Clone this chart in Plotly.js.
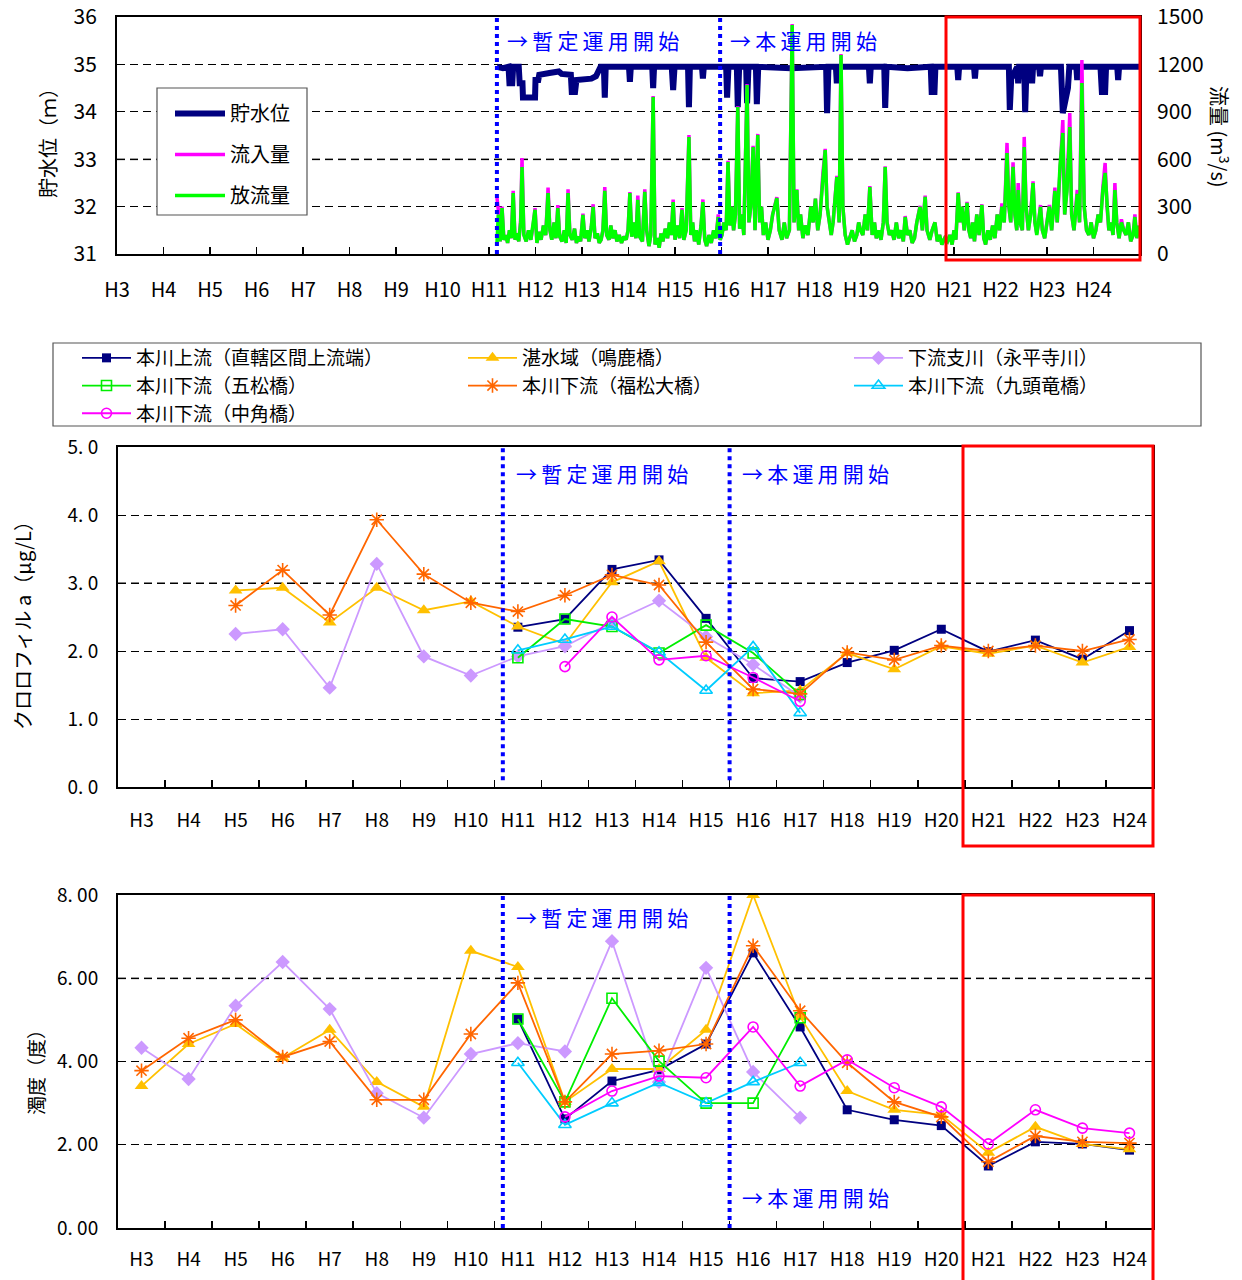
<!DOCTYPE html>
<html>
<head>
<meta charset="utf-8">
<script src="https://cdn.plot.ly/plotly-3.0.1.min.js"></script>
<style>html,body{margin:0;padding:0;background:#fff;}#chart{width:1242px;height:1280px;}</style>
</head>
<body>
<div id="chart"></div>
<script>
// ---------- data ----------
const yearLabels = ['H3','H4','H5','H6','H7','H8','H9','H10','H11','H12','H13','H14','H15','H16','H17','H18','H19','H20','H21','H22','H23','H24'];
const yearNums = [3,4,5,6,7,8,9,10,11,12,13,14,15,16,17,18,19,20,21,22,23,24];

const waterYear = [11.17,11.30,11.42,11.44,11.50,11.52,11.64,11.66,11.72,11.73,11.99,12.00,12.06,12.08,12.30,12.50,12.56,12.76,12.78,12.85,12.88,13.20,13.30,13.40,13.47,13.49,13.51,14.01,14.03,14.05,14.51,14.53,14.55,14.93,14.96,14.99,15.28,15.30,15.32,15.58,15.60,15.62,16.10,16.12,16.15,16.33,16.35,16.38,16.53,16.55,16.58,16.74,16.76,16.79,17.50,18.25,18.27,18.30,18.46,18.48,18.50,19.17,19.19,19.21,19.50,19.52,19.55,20.00,20.50,20.52,20.58,20.60,21.07,21.09,21.11,21.43,21.45,21.47,22.18,22.20,22.23,22.36,22.38,22.40,22.51,22.53,22.56,22.66,22.68,22.70,22.83,22.85,22.87,23.30,23.34,23.40,23.45,23.48,23.63,23.65,23.67,24.15,24.18,24.25,24.27,24.51,24.53,24.55,25.00];
const waterLevel = [34.95,34.92,34.95,34.60,34.60,34.95,34.95,34.60,34.60,34.30,34.30,34.67,34.67,34.78,34.82,34.85,34.80,34.78,34.42,34.42,34.67,34.70,34.75,34.95,34.95,34.30,34.95,34.95,34.63,34.95,34.95,34.50,34.95,34.95,34.46,34.95,34.95,34.10,34.95,34.95,34.70,34.95,34.95,34.30,34.95,34.95,34.10,34.95,34.95,34.18,34.95,34.95,34.16,34.95,34.92,34.95,33.97,34.95,34.95,34.60,34.95,34.95,34.60,34.95,34.95,34.08,34.95,34.92,34.95,34.42,34.42,34.95,34.95,34.67,34.95,34.95,34.70,34.95,34.95,34.04,34.70,34.95,34.60,34.95,34.95,33.99,34.95,34.95,34.60,34.95,34.95,34.75,34.95,34.95,33.97,34.20,34.50,34.95,34.95,34.67,34.95,34.95,34.42,34.42,34.95,34.95,34.67,34.95,34.95];

const flowYear = [
11.17,11.20,11.24,11.28,11.32,11.36,11.40,11.44,11.48,11.52,
11.56,11.60,11.64,11.68,11.71,11.75,11.80,11.85,11.90,11.95,
11.99,12.03,12.07,12.12,12.17,12.22,12.27,12.31,12.35,12.40,
12.44,12.48,12.52,12.57,12.62,12.66,12.70,12.74,12.79,12.84,
12.88,12.93,12.97,13.02,13.06,13.11,13.15,13.20,13.24,13.28,
13.33,13.37,13.41,13.45,13.49,13.53,13.58,13.62,13.66,13.71,
13.75,13.80,13.85,13.90,13.95,13.99,14.03,14.07,14.12,14.16,
14.20,14.24,14.30,14.35,14.39,14.44,14.48,14.53,14.57,14.62,
14.66,14.70,14.74,14.79,14.84,14.88,14.92,14.96,15.00,15.05,
15.10,15.15,15.19,15.24,15.30,15.34,15.38,15.42,15.46,15.51,
15.56,15.60,15.64,15.68,15.73,15.78,15.83,15.88,15.93,15.97,
16.01,16.05,16.10,16.14,16.18,16.22,16.26,16.30,16.35,16.39,
16.44,16.48,16.55,16.59,16.63,16.68,16.72,16.78,16.82,16.86,
16.90,16.95,17.00,17.05,17.10,17.19,17.24,17.30,17.35,17.40,
17.46,17.52,17.56,17.62,17.66,17.70,17.75,17.80,17.86,17.92,
17.97,18.02,18.07,18.12,18.18,18.23,18.27,18.31,18.36,18.40,
18.45,18.48,18.53,18.57,18.61,18.66,18.71,18.76,18.81,18.86,
18.91,18.95,18.99,19.04,19.09,19.14,19.19,19.24,19.29,19.33,
19.38,19.43,19.48,19.52,19.56,19.61,19.66,19.71,19.76,19.81,
19.86,19.91,19.95,20.00,20.05,20.10,20.15,20.20,20.27,20.32,
20.38,20.42,20.48,20.53,20.59,20.64,20.69,20.74,20.80,20.86,
20.91,20.96,21.00,21.04,21.09,21.13,21.17,21.22,21.28,21.32,
21.36,21.40,21.44,21.49,21.54,21.60,21.64,21.68,21.73,21.78,
21.83,21.88,21.93,21.98,22.03,22.08,22.14,22.18,22.22,22.27,
22.31,22.35,22.38,22.42,22.47,22.51,22.55,22.60,22.65,22.70,
22.74,22.78,22.82,22.86,22.90,22.95,23.00,23.05,23.10,23.17,
23.22,23.28,23.34,23.38,23.43,23.49,23.53,23.58,23.65,23.70,
23.75,23.80,23.85,23.90,23.95,24.00,24.05,24.10,24.15,24.20,
24.25,24.29,24.33,24.38,24.42,24.46,24.50,24.55,24.60,24.65,
24.70,24.75,24.80,24.85,24.89,24.93,24.98];
const outflow = [
60,250,80,290,90,120,70,150,100,386,
90,130,80,200,550,120,80,150,90,180,
280,70,140,90,180,120,386,150,90,200,
100,290,110,80,150,70,386,120,90,160,
70,110,80,247,100,150,80,170,298,100,
130,70,90,150,400,120,90,180,100,150,
80,120,70,110,90,150,386,110,200,100,
342,110,80,393,150,50,120,994,60,100,
40,130,80,160,100,200,120,329,90,180,
100,280,90,150,740,120,200,80,150,60,
180,329,90,50,120,70,150,100,234,90,
120,200,150,582,180,300,150,250,930,160,
250,120,1070,200,300,677,150,753,200,300,
120,200,90,150,250,354,150,90,200,100,
150,1450,200,405,150,250,100,180,120,300,
200,350,150,250,500,658,300,200,120,200,
350,487,200,1260,300,120,60,100,150,80,
120,200,150,120,250,150,424,120,200,100,
150,90,200,551,200,120,150,90,200,100,
150,80,234,120,150,70,100,200,298,150,
361,150,90,150,200,80,120,60,100,80,
120,60,150,90,386,200,300,150,323,150,
100,200,80,250,120,310,100,60,150,90,
180,100,250,150,300,200,639,300,200,551,
250,150,405,200,150,677,300,150,250,449,
200,120,200,298,150,100,200,300,150,400,
200,560,766,250,400,804,250,150,380,200,
1082,300,150,120,200,100,150,250,200,400,
513,300,150,200,120,405,200,100,200,150,
120,200,80,120,234,100,180];
const inflow = [
360,280,80,300,90,120,70,150,100,400,
90,130,80,210,608,120,80,150,90,180,
290,70,140,90,180,120,420,150,90,200,
100,310,110,80,150,70,410,120,90,160,
70,110,80,255,100,150,80,170,315,100,
130,70,90,150,424,120,90,180,100,150,
80,120,70,110,90,150,392,110,200,100,
370,110,80,410,150,50,120,1000,60,100,
40,130,80,160,100,200,120,345,90,180,
100,290,90,150,753,120,200,80,150,60,
180,345,90,50,120,70,150,100,250,90,
120,200,150,590,180,300,150,250,935,160,
250,120,1075,200,300,685,150,760,200,300,
120,200,90,150,250,360,150,90,200,100,
150,1455,200,410,150,250,100,180,120,300,
200,350,150,250,510,665,300,200,120,200,
350,495,200,1265,300,120,60,100,150,80,
120,200,150,120,250,150,430,120,200,100,
150,90,200,555,200,120,150,90,200,100,
150,80,240,120,150,70,100,200,305,150,
370,150,90,150,200,80,120,60,100,80,
120,60,150,90,390,200,300,150,330,150,
100,200,80,250,120,315,100,60,150,90,
180,100,250,150,320,200,703,300,200,580,
250,150,449,200,150,741,300,150,260,460,
200,130,200,310,150,100,200,310,150,420,
200,576,848,250,420,892,250,150,405,200,
1228,300,150,120,200,100,150,250,200,420,
576,300,150,200,120,449,200,100,220,150,
120,200,80,120,250,100,180];

const N = null;
// chlorophyll a (μg/L)
const chlA_upstream   = [N,N,N,N,N,N,N,N,2.35,2.47,3.20,3.34,2.48,1.60,1.55,1.83,2.01,2.32,1.99,2.16,1.88,2.30];
const chlA_reservoir  = [N,N,2.89,2.93,2.42,2.93,2.60,2.73,2.36,2.10,3.01,3.32,1.90,1.38,1.42,1.97,1.73,2.07,1.96,2.08,1.83,2.06];
const chlA_tributary  = [N,N,2.25,2.32,1.46,3.28,1.92,1.64,1.92,2.07,2.42,2.74,2.21,1.80,1.33,N,N,N,N,N,N,N];
const chlA_gomatsu    = [N,N,N,N,N,N,N,N,1.90,2.47,2.36,1.97,2.38,1.97,1.36,N,N,N,N,N,N,N];
const chlA_fukumatsu  = [N,N,2.67,3.19,2.53,3.93,3.13,2.71,2.58,2.82,3.12,2.97,2.13,1.44,1.37,1.98,1.87,2.08,2.00,2.08,2.00,2.17];
const chlA_kuzuryu    = [N,N,N,N,N,N,N,N,2.01,2.17,2.36,1.98,1.42,2.06,1.09,N,N,N,N,N,N,N];
const chlA_nakazuno   = [N,N,N,N,N,N,N,N,N,1.77,2.50,1.87,1.93,1.61,1.26,N,N,N,N,N,N,N];
// turbidity (度)
const turb_upstream   = [N,N,N,N,N,N,N,N,5.02,2.62,3.53,3.80,4.42,6.61,4.83,2.84,2.60,2.46,1.49,2.07,2.02,1.87];
const turb_reservoir  = [3.41,4.42,4.90,4.09,4.76,3.51,2.91,6.66,6.27,3.03,3.82,3.82,4.76,8.00,5.07,3.29,2.84,2.72,1.81,2.43,2.02,1.89];
const turb_tributary  = [4.33,3.58,5.34,6.39,5.26,3.24,2.65,4.18,4.44,4.24,6.89,3.51,6.25,3.75,2.65,N,N,N,N,N,N,N];
const turb_gomatsu    = [N,N,N,N,N,N,N,N,5.02,3.03,5.52,4.01,3.00,3.00,5.05,N,N,N,N,N,N,N];
const turb_fukumatsu  = [3.78,4.56,5.00,4.11,4.48,3.08,3.08,4.66,5.89,3.03,4.18,4.26,4.42,6.78,5.22,3.97,3.03,2.67,1.59,2.21,2.07,2.04];
const turb_kuzuryu    = [N,N,N,N,N,N,N,N,3.97,2.48,3.00,3.49,3.00,3.51,3.97,N,N,N,N,N,N,N];
const turb_nakazuno   = [N,N,N,N,N,N,N,N,N,2.67,3.29,3.65,3.61,4.83,3.41,4.04,3.37,2.91,2.02,2.84,2.40,2.28];

const seriesNames = ['本川上流（直轄区間上流端）','湛水域（鳴鹿橋）','下流支川（永平寺川）','本川下流（五松橋）','本川下流（福松大橋）','本川下流（九頭竜橋）','本川下流（中角橋）'];
const topNames = ['貯水位','流入量','放流量'];
const chlTicks = [0,1,2,3,4,5];
const chlTickText = ['0. 0','1. 0','2. 0','3. 0','4. 0','5. 0'];
const turbTicks = [0,2,4,6,8];
const turbTickText = ['0. 00','2. 00','4. 00','6. 00','8. 00'];
const levelTicks = [31,32,33,34,35,36];
const flowTicks = [0,300,600,900,1200,1500];

// ---------- layout helpers ----------
const W = 1242, H = 1280;
const fx = p => p / W;
const fy = p => 1 - p / H;
const FONT = '"Noto Sans CJK JP", "Noto Sans", sans-serif';
const BLUE = '#0000FF';
const thin = s => s.split('').join('\u2009');

const styles = [
  {color:'#000080', symbol:'square', size:9, fill:true},
  {color:'#FFC000', symbol:'triangle-up', size:12, fill:true},
  {color:'#CC99FF', symbol:'diamond', size:11, fill:true},
  {color:'#00EE00', symbol:'square-open', size:10},
  {color:'#FF6600', symbol:'asterisk-open', size:12},
  {color:'#00CCFF', symbol:'triangle-up-open', size:11},
  {color:'#FF00FF', symbol:'circle-open', size:10}
];
const chlData = [chlA_upstream, chlA_reservoir, chlA_tributary, chlA_gomatsu, chlA_fukumatsu, chlA_kuzuryu, chlA_nakazuno];
const turbData = [turb_upstream, turb_reservoir, turb_tributary, turb_gomatsu, turb_fukumatsu, turb_kuzuryu, turb_nakazuno];

const traces = [];
traces.push({x: waterYear, y: waterLevel, name: topNames[0], type:'scatter', mode:'lines',
  line:{color:'#000080', width:6}, xaxis:'x', yaxis:'y', legend:'legend', legendgroup:'a'});
traces.push({x: flowYear, y: inflow, name: topNames[1], type:'scatter', mode:'lines',
  line:{color:'#FF00FF', width:3.5}, xaxis:'x', yaxis:'y4', legend:'legend', legendgroup:'b'});
traces.push({x: flowYear, y: outflow, name: topNames[2], type:'scatter', mode:'lines',
  line:{color:'#00FF00', width:3.5}, xaxis:'x', yaxis:'y4', legend:'legend', legendgroup:'c'});

function mk(i, data, xa, ya, show) {
  const s = styles[i];
  return {x: yearLabels, y: data, name: seriesNames[i], type:'scatter', mode:'lines+markers',
    xaxis: xa, yaxis: ya, showlegend: show, legend:'legend2',
    line:{color:s.color, width:1.8},
    marker:{symbol:s.symbol, size:s.size, color:s.color, line:{color:s.color, width: s.fill ? 0 : 1.6}}};
}
for (let i = 0; i < 7; i++) traces.push(mk(i, chlData[i], 'x2', 'y2', true));
for (let i = 0; i < 7; i++) traces.push(mk(i, turbData[i], 'x3', 'y3', false));

const axLine = {showline:true, linecolor:'#000', linewidth:2, mirror:true, zeroline:false};
const tf = (sz) => ({family: FONT, size: sz, color:'#000'});

const catX = (dom, anchor, standoff) => Object.assign({}, axLine, {
  domain: dom, anchor: anchor, type:'category', categoryarray: yearLabels, range:[-0.5, 21.5],
  tickson:'boundaries', ticks:'inside', ticklen:7, tickcolor:'#000', tickwidth:1.5,
  showgrid:false, tickfont: tf(19), ticklabelstandoff: standoff
});

const grayGrid = (xref, yref, yv) => ({type:'line', xref: xref + ' domain', yref: yref, x0:0, x1:1, y0:yv, y1:yv,
  layer:'below', line:{color:'#808080', width:2, dash:'8px,5px'}});

const layout = {
  width: W, height: H, margin:{l:0, r:0, t:0, b:0}, paper_bgcolor:'#fff', plot_bgcolor:'#fff',
  font:{family: FONT, color:'#000'},
  xaxis: Object.assign({}, axLine, {domain:[fx(117), fx(1140)], anchor:'y', range:[3,25],
    tickvals: yearNums, ticktext: yearLabels, ticks:'inside', ticklen:7, tickcolor:'#000', tickwidth:1.5,
    showgrid:false, tickfont: tf(20), ticklabelstandoff: 17}),
  yaxis: Object.assign({}, axLine, {domain:[fy(254), fy(17)], anchor:'x', range:[31,36],
    tickvals: levelTicks, ticks:'', showgrid:true, gridcolor:'#000', griddash:'8px,5px', gridwidth:1,
    tickfont: tf(21), ticklabelstandoff: 14}),
  yaxis4: {overlaying:'y', side:'right', anchor:'x', range:[0,1500], tickvals: flowTicks, showgrid:false,
    zeroline:false, showline:false, ticks:'', tickfont: tf(21), ticklabelstandoff: 16},
  xaxis2: catX([fx(118), fx(1153)], 'y2', 15),
  yaxis2: Object.assign({}, axLine, {domain:[fy(787), fy(447)], anchor:'x2', range:[0,5],
    tickvals: chlTicks, ticktext: chlTickText, ticks:'', showgrid:true, gridcolor:'#000', griddash:'8px,5px',
    tickfont: tf(19), ticklabelstandoff: 14}),
  xaxis3: catX([fx(118), fx(1153)], 'y3', 13),
  yaxis3: Object.assign({}, axLine, {domain:[fy(1228), fy(895)], anchor:'x3', range:[0,8],
    tickvals: turbTicks, ticktext: turbTickText, ticks:'', showgrid:true, gridcolor:'#000', griddash:'8px,5px',
    tickfont: tf(19), ticklabelstandoff: 14}),
  legend: {x: fx(170), y: fy(94), xanchor:'left', yanchor:'top', borderwidth:0,
    bgcolor:'rgba(0,0,0,0)', font: tf(20), tracegroupgap: 12, itemwidth: 50, traceorder:'grouped'},
  legend2: {x: fx(77), y: fy(339), xanchor:'left', yanchor:'top', orientation:'h', entrywidth: 322,
    entrywidthmode:'pixels', borderwidth:0, bgcolor:'rgba(0,0,0,0)', font: tf(19), itemwidth: 49,
    traceorder:'normal'},
  shapes: [
    // legend boxes
    {type:'rect', xref:'paper', yref:'paper', x0:fx(157), x1:fx(307), y0:fy(215), y1:fy(88), fillcolor:'#fff', layer:'above', line:{color:'#555', width:1.2}},
    {type:'rect', xref:'paper', yref:'paper', x0:fx(53), x1:fx(1201), y0:fy(426), y1:fy(343), fillcolor:'rgba(0,0,0,0)', line:{color:'#555', width:1.2}},
    // gray gridlines
    grayGrid('x', 'y', 33),
    grayGrid('x2', 'y2', 3),
    grayGrid('x3', 'y3', 6),
    // operation start lines
    {type:'line', xref:'x', yref:'y domain', x0:11.17, x1:11.17, y0:0, y1:1, line:{color:BLUE, width:4, dash:'dot'}},
    {type:'line', xref:'x', yref:'y domain', x0:15.97, x1:15.97, y0:0, y1:1, line:{color:BLUE, width:4, dash:'dot'}},
    {type:'line', xref:'x2', yref:'y2 domain', x0:7.68, x1:7.68, y0:0.02, y1:1, line:{color:BLUE, width:4, dash:'dot'}},
    {type:'line', xref:'x2', yref:'y2 domain', x0:12.5, x1:12.5, y0:0.02, y1:1, line:{color:BLUE, width:4, dash:'dot'}},
    {type:'line', xref:'x3', yref:'y3 domain', x0:7.68, x1:7.68, y0:0.0, y1:1, line:{color:BLUE, width:4, dash:'dot'}},
    {type:'line', xref:'x3', yref:'y3 domain', x0:12.5, x1:12.5, y0:0.0, y1:1, line:{color:BLUE, width:4, dash:'dot'}},
    // red highlight boxes
    {type:'rect', xref:'paper', yref:'paper', x0:fx(946), x1:fx(1140), y0:fy(260), y1:fy(17), line:{color:'#FF0000', width:3}},
    {type:'rect', xref:'paper', yref:'paper', x0:fx(963), x1:fx(1153), y0:fy(846), y1:fy(446), line:{color:'#FF0000', width:3}},
    {type:'rect', xref:'paper', yref:'paper', x0:fx(963), x1:fx(1153), y0:fy(1290), y1:fy(895), line:{color:'#FF0000', width:3}}
  ],
  annotations: [
    {xref:'paper', yref:'paper', x:fx(505), y:fy(40), xanchor:'left', yanchor:'middle', showarrow:false, text: thin('→暫定運用開始'), font:{family:FONT, size:21, color:BLUE}},
    {xref:'paper', yref:'paper', x:fx(728), y:fy(40), xanchor:'left', yanchor:'middle', showarrow:false, text: thin('→本運用開始'), font:{family:FONT, size:21, color:BLUE}},
    {xref:'paper', yref:'paper', x:fx(514), y:fy(473), xanchor:'left', yanchor:'middle', showarrow:false, text: thin('→暫定運用開始'), font:{family:FONT, size:21, color:BLUE}},
    {xref:'paper', yref:'paper', x:fx(740), y:fy(473), xanchor:'left', yanchor:'middle', showarrow:false, text: thin('→本運用開始'), font:{family:FONT, size:21, color:BLUE}},
    {xref:'paper', yref:'paper', x:fx(514), y:fy(917), xanchor:'left', yanchor:'middle', showarrow:false, text: thin('→暫定運用開始'), font:{family:FONT, size:21, color:BLUE}},
    {xref:'paper', yref:'paper', x:fx(740), y:fy(1197), xanchor:'left', yanchor:'middle', showarrow:false, text: thin('→本運用開始'), font:{family:FONT, size:21, color:BLUE}},
    {xref:'paper', yref:'paper', x:fx(48), y:fy(138), xanchor:'center', yanchor:'middle', showarrow:false, textangle:-90, text:'貯水位（ｍ）', font:{family:FONT, size:20, color:'#000'}},
    {xref:'paper', yref:'paper', x:fx(1220), y:fy(137), xanchor:'center', yanchor:'middle', showarrow:false, textangle:90, text:'流量 (m<sup>3</sup>/s)', font:{family:FONT, size:20, color:'#000'}},
    {xref:'paper', yref:'paper', x:fx(22), y:fy(621), xanchor:'center', yanchor:'middle', showarrow:false, textangle:-90, text:'クロロフィル a（μg/L）', font:{family:FONT, size:20, color:'#000'}},
    {xref:'paper', yref:'paper', x:fx(35), y:fy(1068), xanchor:'center', yanchor:'middle', showarrow:false, textangle:-90, text:'濁度（度）', font:{family:FONT, size:19, color:'#000'}}
  ]
};

Plotly.newPlot('chart', traces, layout, {staticPlot:true, displayModeBar:false});
</script>
</body>
</html>
